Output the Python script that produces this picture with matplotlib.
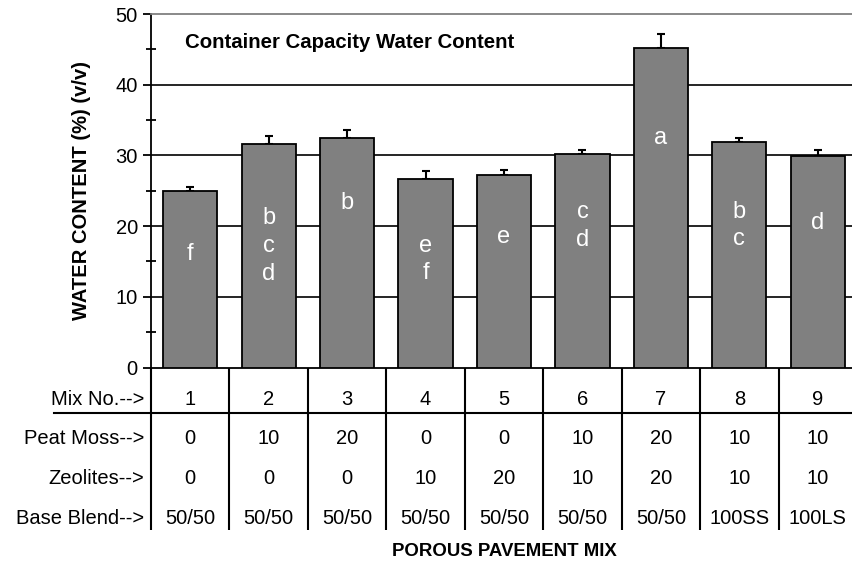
import matplotlib
matplotlib.use("Agg")
import matplotlib.pyplot as plt
import matplotlib.transforms as mtransforms
import numpy as np

plt.rcParams['font.family'] = ['Liberation Sans', 'DejaVu Sans']

# ---- data ----
mix_no = ["1", "2", "3", "4", "5", "6", "7", "8", "9"]
water_content = [24.9, 31.6, 32.5, 26.6, 27.2, 30.2, 45.2, 31.9, 29.9]
std_err = [0.6, 1.1, 1.1, 1.2, 0.8, 0.6, 2.0, 0.6, 0.9]
letters = ["f", "b\nc\nd", "b", "e\nf", "e", "c\nd", "a", "b\nc", "d"]
letter_y = [16.0, 17.2, 23.3, 15.3, 18.5, 20.0, 32.5, 20.1, 20.4]
peat_moss = ["0", "10", "20", "0", "0", "10", "20", "10", "10"]
zeolites = ["0", "0", "0", "10", "20", "10", "20", "10", "10"]
base_blend = ["50/50", "50/50", "50/50", "50/50", "50/50", "50/50", "50/50", "100SS", "100LS"]
row_labels = ["Mix No.-->", "Peat Moss-->", "Zeolites-->", "Base Blend-->"]
y_ticks = [0, 10, 20, 30, 40, 50]

W, H = 852, 563
fig = plt.figure(figsize=(W / 100, H / 100), dpi=100)

ax_left, ax_right = 151, 857
ax_top, ax_bot = 14, 367.5
ax = fig.add_axes([ax_left / W, 1 - ax_bot / H, (ax_right - ax_left) / W, (ax_bot - ax_top) / H])

x = np.arange(len(mix_no))
ax.set_xlim(-0.5, len(mix_no) - 0.5)
ax.set_ylim(0, 50)

# gridlines
for yv in y_ticks[1:-1]:
    ax.axhline(yv, color='black', lw=1.2, zorder=1)

bars = ax.bar(x, water_content, width=0.69, color='#808080', edgecolor='black',
              linewidth=1.3, zorder=3)
ax.errorbar(x, water_content, yerr=[np.zeros(len(x)), std_err], fmt='none',
            ecolor='black', elinewidth=1.5, capsize=2.6, capthick=1.5, zorder=2)

for xi, lab, ly in zip(x, letters, letter_y):
    ax.text(xi, ly, lab, color='white', fontsize=17, ha='center', va='center',
            linespacing=1.33, zorder=4)

# spines
ax.spines['right'].set_visible(False)
ax.spines['top'].set_color('#808080')
ax.spines['top'].set_linewidth(1.3)
ax.spines['left'].set_linewidth(1.3)
ax.spines['bottom'].set_linewidth(1.3)

ax.set_yticks(y_ticks)
ax.set_yticklabels([str(v) for v in y_ticks])
ax.set_yticks(np.arange(5, 50, 10), minor=True)
ax.tick_params(axis='y', which='major', direction='out', length=5.5, width=1.3,
               labelsize=14.5, pad=4)
ax.tick_params(axis='y', which='minor', direction='inout', length=6.5, width=1.3)
ax.set_xticks([])

# title and y label
ax.text(0.048, 0.918, "Container Capacity Water Content", transform=ax.transAxes,
        fontsize=14.7, fontweight='bold', ha='left', va='center')
ax.set_ylabel("WATER CONTENT (%) (v/v)", fontsize=14.5, fontweight='bold')
ax.yaxis.set_label_coords(-0.085, 0.5)

# table below axis
ax_h = ax_bot - ax_top
def frac(py):
    return (ax_bot - py) / ax_h

trans = mtransforms.blended_transform_factory(ax.transData, ax.transAxes)
row_y = [frac(399.5), frac(438.5), frac(478.5), frac(518.5)]
rows = [mix_no, peat_moss, zeolites, base_blend]
for ry, vals in zip(row_y, rows):
    for xi, v in zip(x, vals):
        ax.text(xi, ry, v, transform=trans, ha='center', va='center', fontsize=14.5,
                clip_on=False)

label_x = (144 - ax_left) / (ax_right - ax_left)
for ry, lab in zip(row_y, row_labels):
    ax.text(label_x, ry, lab, transform=ax.transAxes, ha='right', va='center',
            fontsize=14.5, clip_on=False)

# vertical separators
for xb in np.arange(-0.5, len(mix_no), 1.0):
    ax.plot([xb, xb], [0, frac(530)], transform=trans, color='black', lw=1.5,
            clip_on=False, solid_capstyle='butt')
# horizontal line under Mix No.
hx0 = (54 - ax_left) / (ax_right - ax_left)
ax.plot([hx0, 1.0], [frac(413.3), frac(413.3)], transform=ax.transAxes, color='black',
        lw=1.5, clip_on=False)

ax.text(0.5, frac(551.5), "POROUS PAVEMENT MIX", transform=ax.transAxes, ha='center',
        va='center', fontsize=13.4, fontweight='bold', clip_on=False)

fig.savefig("out.png", dpi=100)
